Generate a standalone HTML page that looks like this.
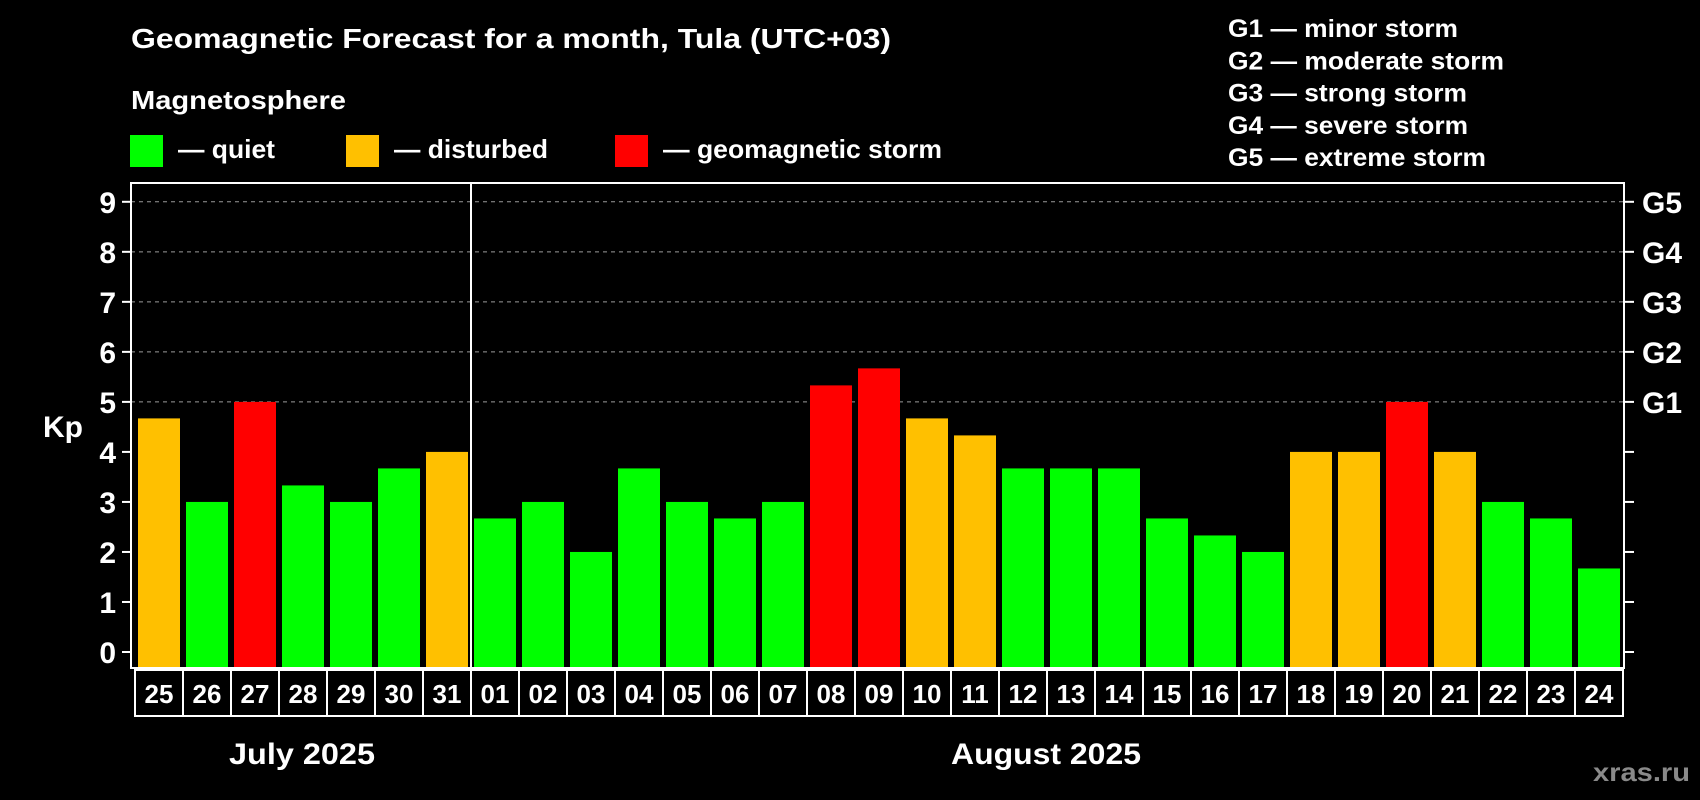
<!DOCTYPE html>
<html><head><meta charset="utf-8"><style>
html,body{margin:0;padding:0;background:#000;}
svg{display:block;font-family:"Liberation Sans",sans-serif;font-weight:bold;}
</style></head><body>
<svg id="chart" width="1700" height="800" viewBox="0 0 1700 800">
<rect x="0" y="0" width="1700" height="800" fill="#000"/>
<text x="131" y="48" fill="#fff" font-size="28" textLength="760" lengthAdjust="spacingAndGlyphs">Geomagnetic Forecast for a month, Tula (UTC+03)</text>
<text x="131" y="109" fill="#fff" font-size="26" textLength="215" lengthAdjust="spacingAndGlyphs">Magnetosphere</text>
<g id="legend"></g>
<g id="glegend"></g>
<g id="plot"></g>
<text x="302" y="764" fill="#fff" font-size="30" text-anchor="middle" textLength="146" lengthAdjust="spacingAndGlyphs">July 2025</text>
<text x="1046" y="764" fill="#fff" font-size="30" text-anchor="middle" textLength="190" lengthAdjust="spacingAndGlyphs">August 2025</text>
<text x="1690" y="781" fill="#8a8a8a" font-size="26" text-anchor="end" textLength="97" lengthAdjust="spacingAndGlyphs">xras.ru</text>
</svg>
<script>
const days = ["25","26","27","28","29","30","31","01","02","03","04","05","06","07","08","09","10","11","12","13","14","15","16","17","18","19","20","21","22","23","24"];
const kpValues = [4.67,3,5,3.33,3,3.67,4,2.67,3,2,3.67,3,2.67,3,5.33,5.67,4.67,4.33,3.67,3.67,3.67,2.67,2.33,2,4,4,5,4,3,2.67,1.67];
const yTicks = ["0","1","2","3","4","5","6","7","8","9"];
const gLabels = ["G1","G2","G3","G4","G5"];
const legendLabels = ["— quiet","— disturbed","— geomagnetic storm"];
const gLegend = ["G1 — minor storm","G2 — moderate storm","G3 — strong storm","G4 — severe storm","G5 — extreme storm"];

const NS="http://www.w3.org/2000/svg";
function mk(tag, attrs, parent){const e=document.createElementNS(NS,tag);for(const k in attrs)e.setAttribute(k,attrs[k]);parent.appendChild(e);return e;}
const PL=131, PR=1624, PT=183, PB=668;
const y0=652, perUnit=(652-201.8)/9;
function yScale(v){return y0 - v*perUnit;}
function xScale(i){return 138 + i*48;}
function colorFor(v){return v>=5?"#ff0000":(v>=4?"#ffc000":"#00ff00");}

const lg=document.getElementById('legend');
const swX=[130,346,615], swC=["#00ff00","#ffc000","#ff0000"], lw=[97,154,279];
legendLabels.forEach((t,i)=>{
  const r=mk('rect',{x:swX[i],y:135,width:33,height:32,fill:swC[i]},lg);
  
  
  const tx=mk('text',{x:swX[i]+48,y:158,fill:'#fff','font-size':26,textLength:lw[i],lengthAdjust:'spacingAndGlyphs'},lg);
  tx.textContent=t;
  
  
});

const gl=document.getElementById('glegend');
const glw=[230,276,239,240,258];
gLegend.forEach((t,i)=>{
  const tx=mk('text',{x:1228,y:37+i*32.3,fill:'#fff','font-size':25,textLength:glw[i],lengthAdjust:'spacingAndGlyphs'},gl);
  tx.textContent=t;
  
  
});

const p=document.getElementById('plot');
for(let v=5; v<=9; v++){
  const l=mk('line',{x1:PL,x2:PR,y1:yScale(v),y2:yScale(v),stroke:'#999','stroke-width':1,'stroke-dasharray':'4,4'},p);
  
  
}
kpValues.forEach((v,i)=>{
  const top=yScale(v);
  const b=mk('rect',{x:xScale(i),y:top,width:42,height:PB-1-top,fill:colorFor(v)},p);
  
  
});
const fr=mk('rect',{x:PL,y:PT,width:PR-PL,height:PB-PT,fill:'none',stroke:'#fff','stroke-width':2},p);


const dv=mk('line',{x1:471,x2:471,y1:PT,y2:PB,stroke:'#fff','stroke-width':2},p);


yTicks.forEach((t,i)=>{
  const y=yScale(+t);
  const l=mk('line',{x1:122,x2:PL,y1:y,y2:y,stroke:'#fff','stroke-width':2},p);
  
  
  const r=mk('line',{x1:PR,x2:1634,y1:y,y2:y,stroke:'#fff','stroke-width':2},p);
  
  
  const tx=mk('text',{x:116,y:y+11,fill:'#fff','font-size':30,'text-anchor':'end'},p);
  tx.textContent=t;
  
  
});
gLabels.forEach((t,i)=>{
  const tx=mk('text',{x:1642,y:yScale(5+i)+11,fill:'#fff','font-size':30},p);
  tx.textContent=t;
  
  
});
const kp=mk('text',{x:43,y:437,fill:'#fff','font-size':30},p);
kp.textContent='Kp';


days.forEach((d,i)=>{
  const x=135+i*48;
  const c=mk('rect',{x:x,y:670,width:48,height:46,fill:'none',stroke:'#fff','stroke-width':2},p);
  
  
  const tx=mk('text',{x:x+24,y:703,fill:'#fff','font-size':26,'text-anchor':'middle'},p);
  tx.textContent=d;
  
  
});
</script>
</body></html>
